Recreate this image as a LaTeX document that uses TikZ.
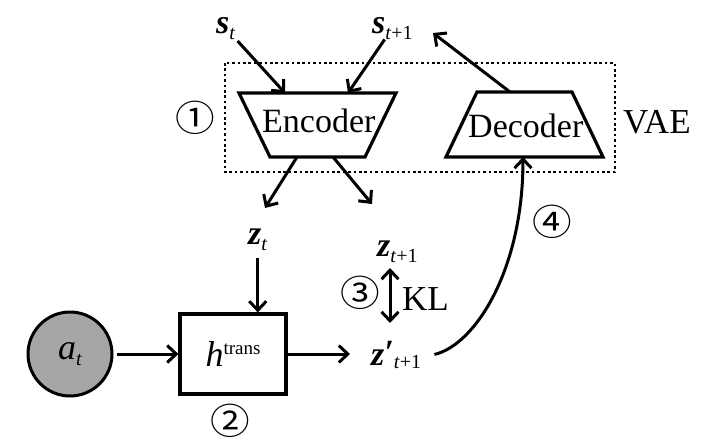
\documentclass[tikz,border=0pt]{standalone}
\usepackage{fontspec}
\setmainfont{Liberation Serif}
\newfontfamily\circfont{Noto Sans CJK SC}
\usetikzlibrary{arrows.meta}
\newcommand\fsz[1]{\fontsize{#1}{#1}\selectfont}
\newcommand\subs[1]{\raisebox{-6pt}{\fsz{20}#1}}
\begin{document}
\begin{tikzpicture}[x=1pt,y=-1pt,line join=miter,
  arr/.style={line width=3pt,-{Straight Barb[length=9pt,width=17pt]}},
  arrtwo/.style={line width=3pt,{Straight Barb[length=9pt,width=17pt]}-{Straight Barb[length=9pt,width=17pt]}},
  shp/.style={line width=3.2pt},
  lbl/.style={inner sep=0pt,anchor=base west},
  circ/.style={font=\circfont\fsz{36},inner sep=0pt,xscale=1.1}]
\useasboundingbox (0,0) rectangle (723,439);
% VAE frame
\draw[line width=2.8pt,dash pattern=on 2.6pt off 2.8pt] (225,63) rectangle (615,172);
% encoder / decoder
\draw[shp] (239,93) -- (396,93) -- (365,157) -- (270,157) -- cycle;
\node[lbl,font=\fsz{34}] (enc) at (262,132) {Encoder};
\draw[shp] (477,92) -- (572,92) -- (603,157) -- (446,157) -- cycle;
\node[lbl,font=\fsz{34}] (dec) at (468,137) {Decoder};
\node[lbl,font=\fsz{35}] (vae) at (623,133) {VAE};
% variables
\node[lbl,font=\fsz{34}] (st) at (216,33) {\textbf{\textit{s}}\subs{\textit{t}}};
\node[lbl,font=\fsz{34}] (stp) at (372,33) {\textbf{\textit{s}}\subs{\textit{t}+1}};
\node[lbl,font=\fsz{34}] (zt) at (248,244) {\textbf{\textit{z}}\subs{\textit{t}}};
\node[lbl,font=\fsz{34}] (ztp) at (377,256) {\textbf{\textit{z}}\subs{\textit{t}+1}};
\node[lbl,font=\fsz{34}] (zp) at (371,365) {\textbf{\textit{z}}\raisebox{2pt}{\textbf{\textit{′}}}\raisebox{-3pt}{\fsz{20}\textit{t}+1}};
\node[circle,draw,fill=gray!70,line width=3pt,minimum size=84pt,inner sep=0pt] (at) at (70,354) {\fsz{36}\textit{a}\subs{\textit{t}}};
\node[draw,shp,minimum width=106pt,minimum height=80pt,inner sep=0pt] (htr) at (233,354) {\fsz{36}\textit{h}\raisebox{12pt}{\fsz{19}trans}};
\node[lbl,font=\fsz{35}] (kl) at (402,310) {KL};
% circled numbers
\node[circ] (n1) at (195,118) {①};
\node[circ] (n2) at (230,421) {②};
\node[circ] (n3) at (360,293) {③};
\node[circ] (n4) at (552,222) {④};
% connectors
\coordinate (encA) at (285,93);
\coordinate (encB) at (348,93);
\coordinate (decA) at (510,92);
\coordinate (stpR) at (433,33);
\coordinate (encC) at (297,157);
\coordinate (ztin) at (265,208);
\coordinate (encD) at (333,157);
\coordinate (ztpin) at (372,204);
\coordinate (zpin) at (350,354);
\coordinate (klA) at (390,268);
\coordinate (klB) at (390,323);
\coordinate (decB) at (523,157);
\draw[arr,shorten <=3pt] (st) -- (encA);
\draw[arr] (stp) -- (encB);
\draw[arr] (decA) -- (stpR);
\draw[arr] (encC) -- (ztin);
\draw[arr] (encD) -- (ztpin);
\draw[arr,shorten <=8pt] (zt.south) -- (zt.south |- htr.north);
\draw[arr,shorten <=3pt] (at) -- (htr);
\draw[arr] (htr) -- (zpin);
\draw[arrtwo] (klA) -- (klB);
\draw[arr] ([xshift=13pt]zp.east) .. controls (475,345) and (523,270) .. (decB);
\end{tikzpicture}
\end{document}
